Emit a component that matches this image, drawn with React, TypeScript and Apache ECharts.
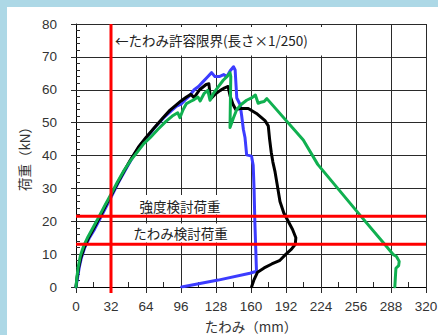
import React, { useEffect, useRef } from "react";
import * as echarts from "echarts";

// deflection (mm), load (kN)
const specimenBlue: [number, number][] = [
  [0, 0], [1.5, 3], [3, 6], [5, 9], [8, 12], [12, 14.8], [17, 17.6], [23, 21.4], [28.5, 25],
  [32.5, 27.6], [38.5, 31.6], [45, 35.5], [51, 39], [57.5, 42.6], [64.5, 45.4], [72, 48.5],
  [80, 51.4], [87, 53.6], [92, 55], [96, 55.6], [100, 57], [104, 58.2], [108, 60], [112, 61],
  [116, 62.4], [120, 63.8], [124, 65.2], [127, 64], [131, 64], [135, 64.6], [138, 64],
  [141, 65.8], [144, 67], [145.5, 66], [147, 57.5], [150, 55.5], [151.5, 52], [153, 48],
  [154.5, 45.5], [155.5, 42], [156, 40.2], [160.5, 39.8], [162, 37], [162.8, 30], [163.5, 20],
  [164.5, 10], [165, 4.8], [159, 4.2], [130, 2.1], [96.6, 0],
];

const specimenBlack: [number, number][] = [
  [0, 0], [1, 3], [2.5, 6], [4.5, 9], [7.5, 12], [11.5, 15], [16.5, 18], [22, 21.4], [28, 25.4],
  [32, 27.8], [38, 31.6], [44, 35.3], [50, 38.8], [57, 42.5], [64, 45.5], [72, 48.6], [80, 51.6],
  [86, 53.8], [92, 55.5], [96, 56.6], [101, 57.8], [105, 58.6], [108, 57.6], [113, 60],
  [119, 61.6], [121.5, 61.8], [123, 57.2], [127, 58.6], [132, 59.8], [136, 60.6], [139, 61],
  [141, 58], [143.5, 55.6], [146, 54], [150, 54.3], [157.5, 54.3], [165, 52.8], [172.8, 50.6],
  [175.8, 49], [177, 45], [178.5, 41], [180, 38], [182, 35], [184, 31], [186.5, 26], [190, 22.5],
  [194, 20], [198, 17.5], [201, 15], [200.5, 13], [197, 11.5], [192, 10], [186, 8], [179, 7],
  [172, 5.8], [166, 4.5], [162.5, 2], [160.5, 0],
];

const specimenGreen: [number, number][] = [
  [0, 0], [0.8, 3], [2, 6], [4, 9.5], [7, 12.5], [11, 15.3], [16, 18.3], [21, 21.4], [27, 25.2],
  [32, 28.2], [38, 32], [44, 35.5], [50, 38.5], [55.5, 40.8], [62, 43.6], [68, 45.5], [75, 48],
  [82, 50.3], [88, 52], [93, 53], [95, 51.5], [98, 54], [101, 55.8], [105, 56.5], [108, 57],
  [111.5, 57.8], [113.5, 56.6], [117, 58.8], [120.5, 59.8], [122.5, 56.8], [125.5, 58.8],
  [130, 60.9], [134.6, 62.9], [138, 64], [140.8, 65.2], [141.5, 64], [140.8, 48.5], [144, 51.5],
  [147, 54], [151, 55.5], [156, 56.8], [161, 57.6], [164, 58.4], [166.5, 55.9], [169, 56.2],
  [172, 56.4], [174.5, 57.3], [207.8, 44.7], [221, 37.3], [260.8, 21.4], [282.2, 13],
  [290, 9.9], [293, 9.3], [295.5, 7.8], [295, 6.5], [292.5, 5.7], [292, 3], [291.5, 0],
];

const allowableDeflection = 32; // length / 250
const strengthCheckLoad = 21.5;
const deflectionCheckLoad = 13;

const limitLabel = "←たわみ許容限界(長さ×1/250)";
const strengthLabel = "強度検討荷重";
const deflectionLabel = "たわみ検討荷重";
const xAxisTitle = "たわみ（mm）";
const yAxisTitle = "荷重（kN）";

const X_MIN = 0, X_MAX = 320, X_STEP = 32, X_MINOR = 16;
const Y_MIN = 0, Y_MAX = 80, Y_STEP = 10, Y_MINOR = 2;

const FONT = "'Noto Sans CJK JP', 'Noto Sans', sans-serif";
const NUM_FONT = "'Liberation Sans', Arial, sans-serif";

export default function App() {
  const ref = useRef<HTMLDivElement>(null);
  useEffect(() => {
    if (!ref.current) return;
    const chart = echarts.init(ref.current, undefined, { renderer: "svg" });
    const gridColor = "#2a2a2a";
    const curve = (data: [number, number][], color: string, z: number) => ({
      type: "line",
      data,
      showSymbol: false,
      symbol: "none",
      z,
      lineStyle: { color, width: 3, join: "round", cap: "round" },
    });
    const redLine = (data: [number, number][]) => ({
      type: "line",
      data,
      showSymbol: false,
      symbol: "none",
      clip: false,
      z: 6,
      lineStyle: { color: "#ff0000", width: 3 },
    });
    chart.setOption({
      animation: false,
      backgroundColor: "transparent",
      grid: { left: 76, top: 24, right: 12, bottom: 48, containLabel: false, outerBoundsMode: "none" },
      xAxis: [
        {
          type: "value", position: "bottom", min: X_MIN, max: X_MAX, interval: X_STEP,
          axisLine: { onZero: false, lineStyle: { color: "#000", width: 1 } },
          axisTick: { show: true, inside: false, length: 6, lineStyle: { color: gridColor } },
          splitLine: { show: true, lineStyle: { color: gridColor, width: 1 } },
          axisLabel: { color: "#333", fontSize: 13.5, fontFamily: NUM_FONT, margin: 12 },
          name: xAxisTitle, nameLocation: "middle", nameGap: 32,
          nameTextStyle: { color: "#333", fontSize: 13.5, fontFamily: FONT },
        },
        {
          type: "value", position: "bottom", min: X_MIN, max: X_MAX, interval: X_MINOR,
          axisLine: { show: false },
          axisTick: { show: true, inside: true, length: 5, lineStyle: { color: gridColor } },
          splitLine: { show: false }, axisLabel: { show: false },
        },
      ],
      yAxis: [
        {
          type: "value", position: "left", min: Y_MIN, max: Y_MAX, interval: Y_STEP,
          axisLine: { show: true, onZero: false, lineStyle: { color: "#000", width: 1 } },
          axisTick: { show: true, inside: false, length: 5, lineStyle: { color: gridColor } },
          splitLine: { show: true, lineStyle: { color: gridColor, width: 1 } },
          axisLabel: { color: "#333", fontSize: 13.5, fontFamily: NUM_FONT, margin: 19 },
          name: yAxisTitle, nameLocation: "middle", nameGap: 38,
          nameTextStyle: { color: "#333", fontSize: 13.5, fontFamily: FONT },
        },
        {
          type: "value", position: "left", min: Y_MIN, max: Y_MAX, interval: Y_MINOR,
          axisLine: { show: false },
          axisTick: { show: true, inside: true, length: 4, lineStyle: { color: gridColor } },
          splitLine: { show: false }, axisLabel: { show: false },
        },
      ],
      graphic: [
        { type: "rect", z: 1, shape: { x: 112.5, y: 27, width: 222, height: 28.5 }, style: { fill: "#fff" } },
        { type: "rect", z: 1, shape: { x: 136, y: 195, width: 88, height: 19.5 }, style: { fill: "#fff" } },
        { type: "rect", z: 1, shape: { x: 130, y: 223.5, width: 101, height: 19 }, style: { fill: "#fff" } },
        {
          type: "text", z: 1, x: 115, y: 40,
          style: { text: limitLabel, fill: "#222", font: `13.5px ${FONT}`, verticalAlign: "middle" },
        },
        {
          type: "text", z: 1, x: 180, y: 206,
          style: { text: strengthLabel, fill: "#222", font: `13.5px ${FONT}`, align: "center", verticalAlign: "middle" },
        },
        {
          type: "text", z: 1, x: 180.5, y: 233,
          style: { text: deflectionLabel, fill: "#222", font: `13.5px ${FONT}`, align: "center", verticalAlign: "middle" },
        },
      ],
      series: [
        curve(specimenBlue, "#3c3cff", 2),
        curve(specimenBlack, "#000000", 3),
        curve(specimenGreen, "#10b050", 4),
        redLine([[allowableDeflection, -1.8], [allowableDeflection, Y_MAX]]),
        redLine([[X_MIN, strengthCheckLoad], [X_MAX, strengthCheckLoad]]),
        redLine([[X_MIN, deflectionCheckLoad], [X_MAX, deflectionCheckLoad]]),
      ],
    });
    return () => chart.dispose();
  }, []);
  return (
    <div style={{ position: "fixed", left: 0, top: 0, width: 438, height: 335, background: "#add8e6" }}>
      <div style={{ position: "absolute", left: 7, top: 7, right: 0, bottom: 0, background: "#fff" }} />
      <div ref={ref} style={{ position: "absolute", left: 0, top: 0, width: 438, height: 335 }} />
    </div>
  );
}
